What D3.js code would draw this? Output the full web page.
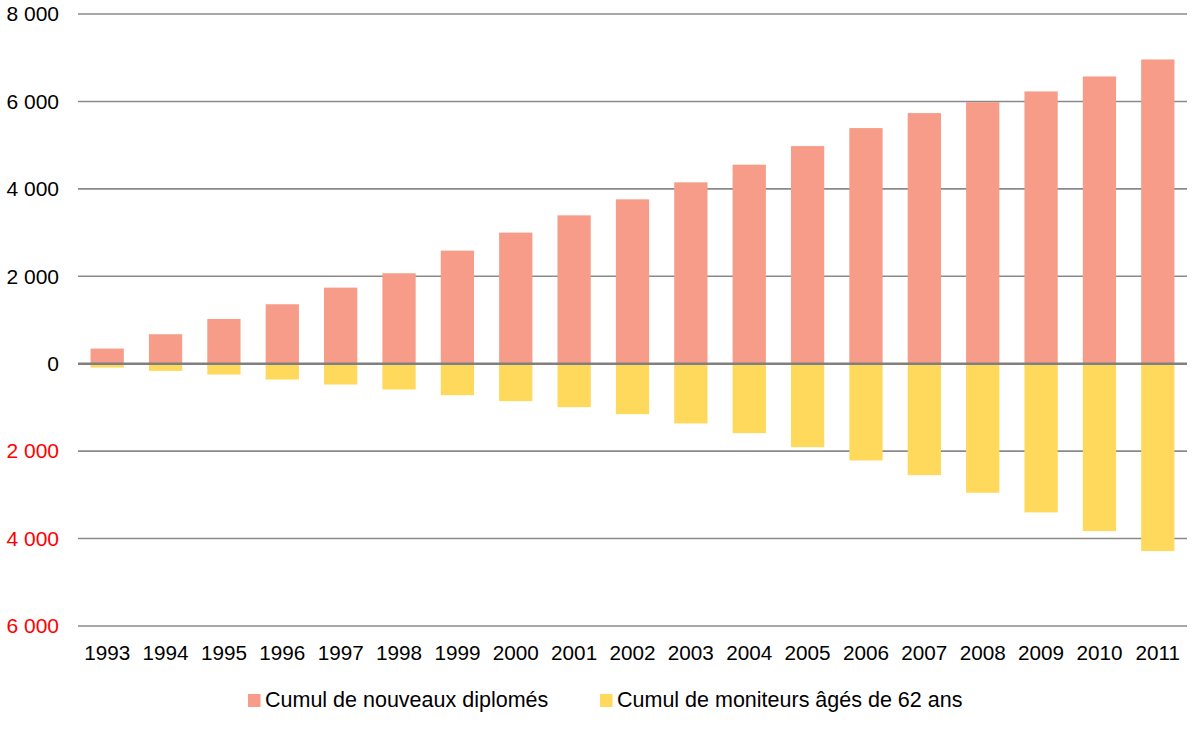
<!DOCTYPE html>
<html>
<head>
<meta charset="utf-8">
<script src="https://cdn.jsdelivr.net/npm/d3@7"></script>
<style>
  body { margin: 0; background: #fff; }
  svg text { font-family: "Liberation Sans", Arial, sans-serif; }
</style>
</head>
<body>
<svg id="chart" width="1200" height="735"></svg>
<script>
// data
const years = ["1993", "1994", "1995", "1996", "1997", "1998", "1999", "2000", "2001", "2002",
               "2003", "2004", "2005", "2006", "2007", "2008", "2009", "2010", "2011"];
const diplomes = [346, 674, 1024, 1360, 1741, 2069, 2587, 2999, 3394, 3760,
                  4149, 4553, 4979, 5390, 5733, 5984, 6229, 6571, 6960];
const retraites = [-88, -164, -248, -362, -476, -590, -720, -857, -994, -1154,
                   -1367, -1589, -1909, -2213, -2549, -2952, -3401, -3829, -4286];
const yTicks = [-6000, -4000, -2000, 0, 2000, 4000, 6000, 8000];
const seriesNames = ["Cumul de nouveaux diplomés", "Cumul de moniteurs âgés de 62 ans"];
const seriesColors = ["#F69C88", "#FFD95C"];

const svg = d3.select("#chart");
const margin = { left: 78, right: 13, top: 14, bottom: 109 };
const width = 1200, height = 735;

const x = d3.scaleBand()
    .domain(years)
    .range([margin.left, width - margin.right])
    .paddingInner(0.43)
    .paddingOuter(0.215);

const y = d3.scaleLinear()
    .domain([-6000, 8000])
    .range([height - margin.bottom, margin.top]);

const fmt = v => d3.format(",")(Math.abs(v)).replace(/,/g, "\u00a0");

// gridlines
svg.append("g")
    .selectAll("line")
    .data(yTicks)
    .join("line")
    .attr("x1", margin.left)
    .attr("x2", width - margin.right)
    .attr("y1", d => y(d))
    .attr("y2", d => y(d))
    .attr("stroke", "#8a8a8a")
    .attr("stroke-width", 1.6);

// y labels, negatives shown in red without sign
svg.append("g")
    .selectAll("text")
    .data(yTicks)
    .join("text")
    .attr("x", 59)
    .attr("y", d => y(d))
    .attr("dy", "0.35em")
    .attr("text-anchor", "end")
    .attr("font-size", 21)
    .attr("fill", d => d < 0 ? "#FF0000" : "#000")
    .text(fmt);

// bars
svg.append("g")
    .selectAll("rect")
    .data(diplomes)
    .join("rect")
    .attr("x", (d, i) => x(years[i]))
    .attr("width", x.bandwidth())
    .attr("y", d => y(d))
    .attr("height", d => y(0) - y(d))
    .attr("fill", seriesColors[0]);

svg.append("g")
    .selectAll("rect")
    .data(retraites)
    .join("rect")
    .attr("x", (d, i) => x(years[i]))
    .attr("width", x.bandwidth())
    .attr("y", y(0))
    .attr("height", d => y(d) - y(0))
    .attr("fill", seriesColors[1]);

// zero line on top
svg.append("line")
    .attr("x1", margin.left)
    .attr("x2", width - margin.right)
    .attr("y1", y(0))
    .attr("y2", y(0))
    .attr("stroke", "#808080")
    .attr("stroke-width", 2.4);

// x labels
svg.append("g")
    .selectAll("text")
    .data(years)
    .join("text")
    .attr("x", d => x(d) + x.bandwidth() / 2)
    .attr("y", 660)
    .attr("text-anchor", "middle")
    .attr("font-size", 20.7)
    .attr("fill", "#000")
    .text(d => d);

// legend
const legendX = [248, 600];
const legend = svg.append("g")
    .selectAll("g")
    .data(seriesNames)
    .join("g")
    .attr("transform", (d, i) => `translate(${legendX[i]}, 707)`);

legend.append("rect")
    .attr("x", 0)
    .attr("y", -13)
    .attr("width", 12.5)
    .attr("height", 13)
    .attr("fill", (d, i) => seriesColors[i]);

legend.append("text")
    .attr("x", 17)
    .attr("y", 0)
    .attr("font-size", 21.5)
    .attr("fill", "#000")
    .text(d => d);
</script>
</body>
</html>
